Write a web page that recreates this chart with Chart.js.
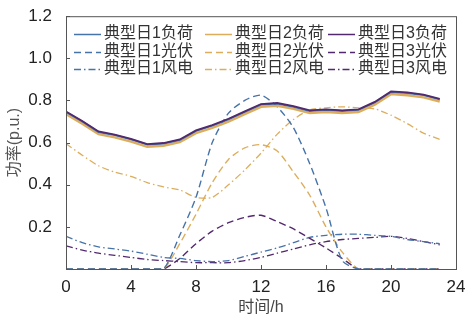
<!DOCTYPE html>
<html><head><meta charset="utf-8">
<script src="https://cdn.jsdelivr.net/npm/chart.js@4.4.1/dist/chart.umd.min.js"></script>
<style>html,body{margin:0;padding:0;background:#fff}#wrap{width:472px;height:321px;position:relative}</style>
</head><body><div id="wrap"><canvas id="c" width="472" height="321"></canvas></div>
<script>
const hours = [0,1,2,3,4,5,6,7,8,9,10,11,12,13,14,15,16,17,18,19,20,21,22,23];
const load1 = [0.745,0.70,0.65,0.635,0.615,0.59,0.595,0.612,0.655,0.68,0.71,0.745,0.78,0.785,0.77,0.75,0.755,0.75,0.755,0.79,0.84,0.835,0.825,0.805];
const load2 = [0.735,0.69,0.64,0.625,0.605,0.58,0.585,0.602,0.645,0.67,0.70,0.735,0.77,0.775,0.76,0.74,0.745,0.74,0.745,0.78,0.83,0.825,0.815,0.795];
const load3 = [0.748,0.703,0.653,0.638,0.618,0.593,0.598,0.615,0.658,0.683,0.713,0.748,0.783,0.788,0.773,0.753,0.758,0.753,0.758,0.793,0.843,0.838,0.828,0.808];
const pv1 = [0,0,0,0,0,0,0,0.16,0.34,0.60,0.74,0.80,0.825,0.77,0.67,0.50,0.29,0.04,0,0,0,0,0,0];
const pv2 = [0,0,0,0,0,0,0,0.12,0.26,0.41,0.52,0.575,0.59,0.56,0.46,0.35,0.20,0.08,0,0,0,0,0,0];
const pv3 = [0,0,0,0,0,0,0,0.05,0.12,0.18,0.22,0.245,0.255,0.225,0.19,0.145,0.10,0.05,0,0,0,0,0,0];
const wind1 = [0.155,0.125,0.105,0.095,0.085,0.07,0.055,0.05,0.04,0.035,0.04,0.06,0.08,0.10,0.125,0.15,0.16,0.165,0.165,0.16,0.155,0.14,0.13,0.12];
const wind2 = [0.595,0.54,0.49,0.46,0.44,0.41,0.39,0.375,0.34,0.34,0.40,0.47,0.55,0.64,0.71,0.755,0.765,0.77,0.765,0.76,0.73,0.69,0.645,0.615];
const wind3 = [0.11,0.09,0.075,0.065,0.055,0.045,0.04,0.035,0.03,0.03,0.03,0.04,0.055,0.075,0.095,0.115,0.13,0.14,0.145,0.15,0.155,0.145,0.13,0.115];
const xTicks = [0,4,8,12,16,20,24];
const yTicks = [0.2,0.4,0.6,0.8,1.0,1.2];
const seriesNames = ['典型日1负荷','典型日2负荷','典型日3负荷','典型日1光伏','典型日2光伏','典型日3光伏','典型日1风电','典型日2风电','典型日3风电'];

const BLUE='#4673a8', ORANGE='#dcae5c', PURPLE='#52296e';
const DASH=[7,4], DASHDOT=[7,3,1.5,3];
const series=[load1,load2,load3,pv1,pv2,pv3,wind1,wind2,wind3];
const colors=[BLUE,ORANGE,PURPLE,BLUE,ORANGE,PURPLE,BLUE,ORANGE,PURPLE];
const dashes=[[],[],[],DASH,DASH,DASH,DASHDOT,DASHDOT,DASHDOT];
const widths=[1.8,2.4,1.8,1.4,1.4,1.4,1.3,1.3,1.3];
const orders=[1,2,0,3,4,5,6,7,8];

const datasets = series.map((arr,i)=>({
  label: seriesNames[i],
  data: arr.map((v,j)=>({x:hours[j],y:v})),
  borderColor: colors[i], borderDash: dashes[i], borderWidth: widths[i],
  pointRadius:0, tension: i<3?0:0.25, fill:false, order: orders[i]
}));

const FONT='"Liberation Sans", Arial, "Noto Sans CJK SC", sans-serif';

const deco = {
  id:'deco',
  afterDraw(chart){
    const ctx=chart.ctx, a=chart.chartArea, xs=chart.scales.x, ys=chart.scales.y;
    ctx.save();
    ctx.strokeStyle='#555'; ctx.lineWidth=1; ctx.setLineDash([]);
    ctx.strokeRect(a.left+0.5,a.top+0.5,a.right-a.left,a.bottom-a.top);
    ctx.beginPath();
    xTicks.forEach(t=>{const p=Math.round(xs.getPixelForValue(t))+0.5; ctx.moveTo(p,a.bottom); ctx.lineTo(p,a.bottom-4);});
    yTicks.forEach(t=>{const p=Math.round(ys.getPixelForValue(t))+0.5; ctx.moveTo(a.left,p); ctx.lineTo(a.left+4,p);});
    ctx.stroke();
    // legend
    const colX=[74,205,328], rowY=[34,52,69];
    ctx.font='16px '+FONT; ctx.textBaseline='middle'; ctx.fillStyle='#333';
    chart.data.datasets.forEach((d,i)=>{
      const c=i%3, r=Math.floor(i/3);
      const x=colX[c], y=rowY[r];
      ctx.beginPath(); ctx.strokeStyle=d.borderColor; ctx.lineWidth=1.5;
      ctx.setLineDash(d.borderDash||[]);
      ctx.moveTo(x,y+0.5); ctx.lineTo(x+27,y+0.5); ctx.stroke();
      ctx.setLineDash([]);
      ctx.fillText(d.label,x+30,y);
    });
    ctx.restore();
  }
};

new Chart(document.getElementById('c'),{
  type:'line',
  data:{datasets},
  options:{
    responsive:false, animation:false,
    layout:{padding:{top:13,right:16,left:0,bottom:0}},
    plugins:{legend:{display:false},tooltip:{enabled:false}},
    scales:{
      x:{type:'linear',min:0,max:24,
        afterBuildTicks:s=>{s.ticks=xTicks.map(v=>({value:v}));},
        ticks:{color:'#222',font:{size:17,family:FONT},padding:0,maxRotation:0},
        grid:{display:false},border:{display:false},
        title:{display:true,text:'时间/h',color:'#444',font:{size:16,family:FONT},padding:{top:0,bottom:4}},
        afterFit:s=>{s.height=52;}
      },
      y:{min:0,max:1.2,
        afterBuildTicks:s=>{s.ticks=yTicks.map(v=>({value:v}));},
        ticks:{color:'#222',font:{size:17,family:FONT},padding:6,callback:v=>v.toFixed(1)},
        grid:{display:false},border:{display:false},
        title:{display:true,text:'功率(p.u.)',color:'#555',font:{size:16,family:FONT},padding:{top:5,bottom:2}},
        afterFit:s=>{s.width=66;}
      }
    }
  },
  plugins:[deco]
});
</script></body></html>
